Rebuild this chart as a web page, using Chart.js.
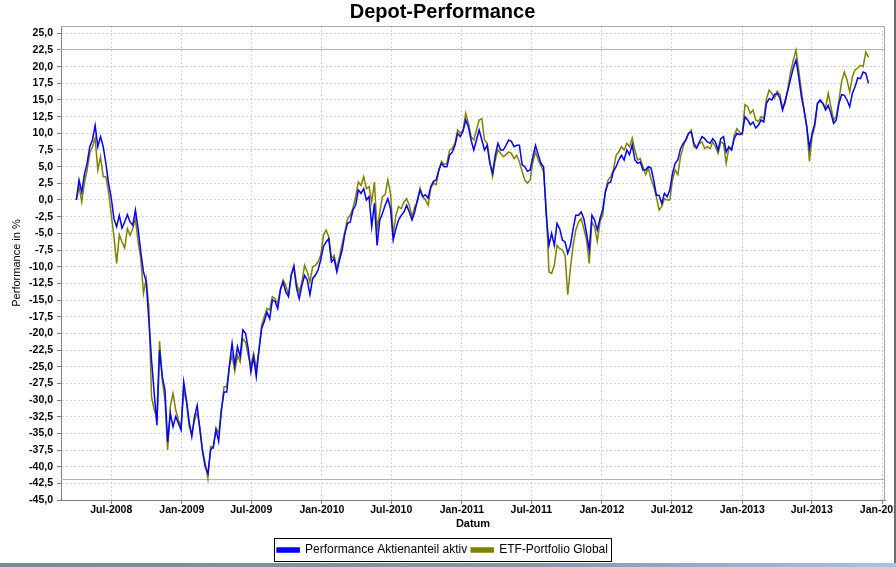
<!DOCTYPE html>
<html>
<head>
<meta charset="utf-8">
<script src="https://cdn.jsdelivr.net/npm/chart.js@4.4.1/dist/chart.umd.min.js"></script>
<style>
  html, body { margin: 0; padding: 0; background: #fff; }
  #wrap { position: relative; width: 896px; height: 567px; overflow: hidden; }
  #edgeR { position: absolute; left: 894px; top: 0; width: 2px; height: 567px; background: #6e6e6e; }
  #edgeB { position: absolute; left: 0; top: 563px; width: 896px; height: 4px;
           background: linear-gradient(to right, #7d8896, #8a96a4 60%, #a9c4e0); }
</style>
</head>
<body>
<div id="wrap">
  <canvas id="perfChart" width="896" height="567"></canvas>
  <div id="edgeR"></div>
  <div id="edgeB"></div>
</div>
<script>
// Wochenwerte (Start 01.04.2008, alle 7 Tage)
const startDate = '2008-04-01';
const stepDays = 7;
const xRange = ['2008-02-21', '2014-01-08'];
const xTickDates = ['2008-07-01', '2009-01-01', '2009-07-01', '2010-01-01', '2010-07-01', '2011-01-01',
                    '2011-07-01', '2012-01-01', '2012-07-01', '2013-01-01', '2013-07-01', '2014-01-01'];
const xTickLabels = ['Jul-2008', 'Jan-2009', 'Jul-2009', 'Jan-2010', 'Jul-2010', 'Jan-2011',
                     'Jul-2011', 'Jan-2012', 'Jul-2012', 'Jan-2013', 'Jul-2013', 'Jan-2014'];
const yMin = -45, yMax = 26.1, yStep = 2.5;
const seriesNames = ['Performance Aktienanteil aktiv', 'ETF-Portfolio Global'];
const rangeMarkers = [22.7, -41.8];

const aktiv = [
  0.0, 3.0, 1.2, 3.8, 5.5, 8.0, 9.0, 11.2, 8.0, 9.5,
  8.0, 5.5, 2.5, 0.3, -2.8, -4.0, -2.3, -4.2, -3.3, -2.2,
  -3.3, -3.8, -1.5, -4.3, -7.8, -10.8, -12.2, -18.0, -24.0, -29.0,
  -33.8, -22.5, -26.5, -28.5, -36.3, -32.0, -34.0, -32.5, -33.5, -34.5,
  -27.3, -30.0, -33.2, -35.5, -32.5, -30.8, -34.5, -37.8, -40.0, -41.0,
  -37.5, -37.0, -34.5, -36.2, -31.5, -28.8, -28.8, -24.8, -21.5, -24.8,
  -22.0, -23.5, -19.5, -20.0, -22.3, -25.8, -23.5, -26.5, -22.5, -19.3,
  -18.2, -16.8, -17.8, -15.0, -15.2, -16.3, -13.5, -12.3, -13.8, -14.5,
  -11.3, -10.0, -13.2, -14.8, -12.8, -11.3, -12.0, -14.2, -11.8, -11.3,
  -10.5, -9.0, -7.0, -6.3, -5.8, -9.3, -8.8, -10.8, -9.0, -7.5,
  -5.0, -3.5, -3.3, -1.5, -0.8, 1.5, 1.0, 1.7, 0.0, 0.5,
  -4.0, -0.5, -6.8, -3.0, -2.0, -0.8, 0.2, -1.3, -6.0, -4.3,
  -3.0, -2.3, -1.8, -0.8, -1.8, -3.0, -1.8, 0.0, 1.5, 0.5,
  0.8, 0.3, 2.0, 2.8, 3.0, 4.5, 5.5, 5.0, 5.0, 6.7,
  7.2, 8.2, 10.0, 9.5, 10.3, 12.0, 11.0, 9.0, 7.5, 9.0,
  10.5, 9.0, 7.5, 8.2, 5.5, 4.0, 6.7, 8.5, 7.5, 7.5,
  8.2, 9.0, 8.8, 8.0, 8.2, 8.2, 5.3, 5.0, 4.3, 4.5,
  6.5, 8.2, 6.8, 5.5, 5.0, -2.3, -6.8, -5.0, -6.8, -3.5,
  -4.3, -6.0, -6.3, -8.0, -6.8, -4.3, -2.3, -2.3, -1.8, -2.8,
  -5.0, -7.5, -2.3, -3.0, -4.5, -2.8, -1.5, 1.2, 2.5, 2.7,
  4.3, 5.0, 6.0, 6.7, 6.0, 7.5, 6.8, 8.3, 6.0, 5.5,
  5.7, 4.5, 4.5, 5.0, 4.8, 3.0, 0.7, 0.7, -0.5, 1.0,
  0.5, 1.5, 4.0, 5.5, 6.0, 7.7, 8.5, 9.0, 10.0, 10.2,
  8.5, 7.8, 8.7, 9.5, 9.2, 8.7, 8.5, 9.2, 8.7, 7.5,
  9.2, 9.5, 7.2, 8.0, 7.5, 9.2, 10.0, 9.8, 10.0, 12.5,
  12.0, 11.3, 11.7, 10.8, 11.2, 12.0, 11.7, 14.5, 15.2, 15.0,
  15.8, 16.0, 15.3, 13.5, 15.0, 16.5, 18.2, 19.8, 21.0, 18.5,
  15.5, 13.5, 11.0, 7.8, 10.0, 11.5, 14.5, 15.0, 14.5, 13.5,
  14.2, 13.0, 11.5, 12.0, 14.5, 15.8, 15.7, 15.0, 14.0, 16.0,
  17.0, 18.3, 18.2, 19.2, 19.0, 17.5
];

const etf = [
  0.0, 2.0, -0.3, 2.5, 4.5, 7.0, 8.0, 9.3, 4.5, 6.5,
  3.5, 3.5, 1.2, -2.2, -5.5, -9.5, -5.2, -6.3, -7.2, -4.3,
  -5.3, -4.3, -2.8, -6.3, -8.8, -14.0, -11.8, -16.0, -29.5, -31.5,
  -32.5, -21.2, -27.0, -30.0, -37.5, -31.0, -29.0, -31.5, -33.0, -34.0,
  -28.5, -30.3, -34.0, -35.0, -33.0, -32.0, -34.0, -37.5, -39.5, -41.8,
  -37.0, -37.2, -34.2, -35.0, -31.7, -28.0, -28.0, -25.0, -23.3, -25.7,
  -23.3, -24.3, -20.8, -21.3, -23.3, -24.8, -23.0, -25.3, -22.5, -18.8,
  -17.5, -16.3, -16.5, -14.5, -14.8, -15.5, -13.3, -12.0, -12.8, -14.3,
  -11.3, -9.8, -12.5, -13.8, -12.3, -9.8, -10.8, -12.3, -10.0, -9.8,
  -9.3, -8.3, -5.3, -4.5, -5.5, -8.8, -8.3, -10.3, -8.5, -6.5,
  -4.8, -2.8, -2.3, -1.2, 0.5, 2.7, 2.2, 3.5, 1.7, 2.0,
  -0.3, 2.7, -4.5, -1.8, 0.5, 0.8, 3.0, 1.0, -5.2, -2.3,
  -1.0, -1.3, -0.3, 0.2, -0.8, -2.5, -1.0, -0.3, 1.8, 0.5,
  0.0, -0.8, 1.8, 2.5, 2.3, 4.5, 5.8, 5.3, 5.5, 7.5,
  7.7, 8.5, 10.5, 10.0, 10.5, 13.0, 11.5, 9.5, 9.0, 10.5,
  12.0, 12.2, 9.0, 8.5, 5.7, 3.5, 6.0, 7.5, 7.0, 6.5,
  6.8, 7.2, 7.0, 6.2, 6.7, 5.7, 4.3, 3.0, 2.5, 3.0,
  5.7, 7.2, 6.0, 5.2, 4.2, -1.5, -10.8, -11.0, -9.8, -6.8,
  -7.3, -7.5, -8.3, -14.2, -10.2, -6.8, -4.5, -3.3, -2.8, -4.3,
  -6.0, -9.5, -3.3, -4.0, -6.2, -3.3, -2.3, 1.2, 3.0, 3.5,
  4.5, 6.7, 7.2, 8.0, 7.5, 8.5, 8.0, 9.3, 7.5, 6.0,
  6.2, 5.0, 3.8, 4.8, 3.2, 2.0, 0.5, -1.5, -1.0, 0.2,
  0.0, 0.0, 3.0, 4.5, 3.8, 6.5, 8.0, 9.2, 10.0, 10.5,
  8.0, 7.8, 8.5, 8.7, 7.7, 8.0, 7.7, 8.7, 8.0, 7.0,
  8.7, 8.5, 5.5, 7.8, 7.5, 9.7, 10.7, 10.2, 9.8, 14.3,
  14.0, 13.0, 13.5, 12.0, 11.8, 12.5, 12.2, 15.2, 16.5, 16.0,
  15.3, 16.3, 15.8, 13.7, 14.5, 16.8, 19.2, 21.0, 22.5, 19.5,
  16.5, 13.5, 11.0, 5.8, 9.5, 11.0, 14.5, 14.8, 14.5, 13.8,
  16.0, 14.0, 12.0, 12.5, 15.0, 17.8, 19.2, 18.0, 16.2, 18.5,
  19.5, 19.8, 20.2, 20.0, 22.2, 21.4
];

const DAY = 86400000;
const t0 = Date.parse(startDate);
const toPoints = arr => arr.map((v, i) => ({ x: t0 + i * stepDays * DAY, y: v }));
const FONT = 'Liberation Sans, Arial, sans-serif';

// Marker-Linien, Rahmen ums Plotfeld und Kasten um die Legende
const decor = {
  id: 'decor',
  beforeDatasetsDraw(chart) {
    const { ctx, chartArea: a, scales: { y } } = chart;
    ctx.save();
    ctx.strokeStyle = '#b4b4b4';
    ctx.lineWidth = 1;
    rangeMarkers.forEach(v => {
      const py = Math.round(y.getPixelForValue(v)) + 0.5;
      ctx.beginPath();
      ctx.moveTo(a.left, py);
      ctx.lineTo(a.right, py);
      ctx.stroke();
    });
    ctx.restore();
  },
  afterDraw(chart) {
    const { ctx, chartArea: a } = chart;
    ctx.save();
    ctx.strokeStyle = '#a8a8a8';
    ctx.lineWidth = 1;
    ctx.beginPath();
    ctx.moveTo(a.left, a.top + 0.5);
    ctx.lineTo(a.right - 0.5, a.top + 0.5);
    ctx.lineTo(a.right - 0.5, a.bottom);
    ctx.stroke();

    const hb = chart.legend.legendHitBoxes;
    if (hb && hb.length) {
      const first = hb[0], last = hb[hb.length - 1];
      const l = Math.round(first.left) - 2.5;
      const r = Math.round(last.left + last.width) + 3.5;
      const t = Math.round(first.top) - 5.5;
      const b = Math.round(first.top + first.height) + 5.5;
      ctx.strokeStyle = '#000';
      ctx.strokeRect(l, t, r - l, b - t);
    }
    ctx.restore();
  }
};

const ctx = document.getElementById('perfChart').getContext('2d');
new Chart(ctx, {
  type: 'line',
  data: {
    datasets: [
      { label: seriesNames[0], data: toPoints(aktiv), borderColor: '#0000ff', backgroundColor: '#0000ff',
        borderWidth: 1.5, pointRadius: 0, tension: 0 },
      { label: seriesNames[1], data: toPoints(etf), borderColor: '#808000', backgroundColor: '#808000',
        borderWidth: 1.5, pointRadius: 0, tension: 0 }
    ]
  },
  options: {
    responsive: false,
    animation: false,
    layout: { padding: { left: 0, right: 11, top: 0, bottom: 1 } },
    plugins: {
      title: {
        display: true, text: 'Depot-Performance', color: '#000',
        font: { family: FONT, size: 20, weight: 'bold' },
        padding: { top: 0, bottom: 2 }
      },
      legend: {
        position: 'bottom',
        labels: { boxWidth: 22, boxHeight: 4, padding: 4, color: '#000',
                  font: { family: FONT, size: 12 } }
      },
      tooltip: { enabled: false }
    },
    scales: {
      x: {
        type: 'linear',
        min: Date.parse(xRange[0]),
        max: Date.parse(xRange[1]),
        afterBuildTicks: s => { s.ticks = xTickDates.map(d => ({ value: Date.parse(d) })); },
        afterFit: s => { s.height = 40; s.paddingLeft = 0; s.paddingRight = 0; },
        ticks: {
          autoSkip: false, maxRotation: 0, padding: 0, color: '#000',
          font: { family: FONT, size: 10.5, weight: 'bold' },
          callback: (v, i) => xTickLabels[i]
        },
        grid: { color: '#d4d4d4', tickLength: 4, tickColor: '#808080' },
        border: { color: '#808080', dash: [2, 2] },
        title: { display: true, text: 'Datum', color: '#000',
                 font: { family: FONT, size: 11, weight: 'bold' }, padding: { top: 0, bottom: 9.4 } }
      },
      y: {
        min: yMin, max: yMax,
        afterFit: s => { s.width = 61; },
        ticks: {
          stepSize: yStep, autoSkip: false, includeBounds: false, padding: 4, color: '#000',
          font: { family: FONT, size: 10.5, weight: 'bold' },
          callback: v => v.toFixed(1).replace('.', ',')
        },
        grid: { color: '#d4d4d4', tickLength: 4, tickColor: '#808080' },
        border: { color: '#808080', dash: [2, 2] },
        title: { display: true, text: 'Performance in %', color: '#000',
                 font: { family: FONT, size: 11 }, padding: { top: 10, bottom: 0 } }
      }
    }
  },
  plugins: [decor]
});
</script>
</body>
</html>
